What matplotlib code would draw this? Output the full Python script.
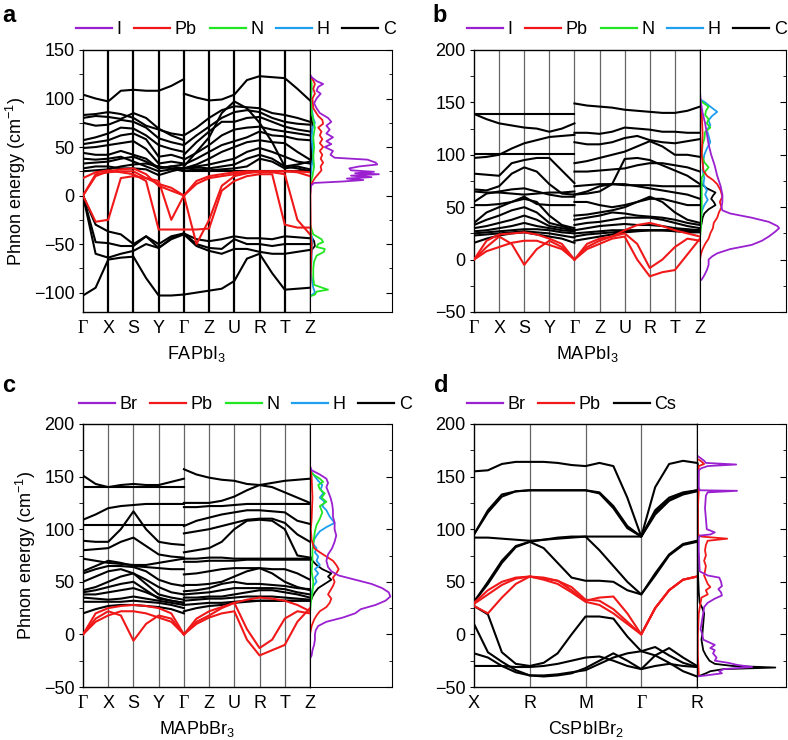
import numpy as np
import matplotlib
matplotlib.use('Agg')
import matplotlib.pyplot as plt
from matplotlib.lines import Line2D
from matplotlib.ticker import MultipleLocator

plt.rcParams['font.family'] = ['Liberation Sans', 'DejaVu Sans']
plt.rcParams['mathtext.fontset'] = 'custom'
plt.rcParams['mathtext.rm'] = 'Liberation Sans'
plt.rcParams['mathtext.it'] = 'Liberation Sans:italic'
plt.rcParams['mathtext.bf'] = 'Liberation Sans:bold'

PURPLE = '#9a20d0'
RED = '#f01818'
GREEN = '#22e622'
BLUE = '#1e9ff0'
BLACK = 'black'

# ---------------- data ----------------
# orthorhombic path, bands sampled at half steps; part 1 = G-X-S-Y-G, part 2 = G-Z-U-R-T-Z
ortho_labels = ['Γ', 'X', 'S', 'Y', 'Γ', 'Z', 'U', 'R', 'T', 'Z']
cubic_labels = ['X', 'R', 'M', 'Γ', 'R']

# FAPbI3
fa_black = [
    ([104, 100, 97, 108, 109, 108, 108, 113, 120], [105, 101, 98, 99, 104, 119, 123, 122, 121, 110, 98]),
    ([83, 84, 86, 84, 80, 72, 68, 64, 62], [62, 70, 80, 88, 92, 91, 90, 85, 83, 80, 76]),
    ([80, 82, 81, 79, 85, 80, 69, 62, 57], [52, 62, 71, 80, 86, 88, 86, 80, 76, 74, 73]),
    ([75, 72, 73, 78, 76, 70, 59, 55, 52], [42, 55, 66, 76, 76, 80, 81, 76, 71, 68, 66]),
    ([57, 60, 64, 70, 69, 62, 52, 48, 45], [37, 44, 52, 62, 68, 70, 71, 68, 66, 64, 62]),
    ([53, 55, 57, 62, 64, 58, 40, 42, 38], [32, 38, 45, 52, 56, 60, 66, 62, 61, 58, 57]),
    ([49, 50, 52, 54, 56, 48, 33, 35, 33], [28, 32, 38, 45, 50, 55, 57, 55, 54, 45, 37]),
    ([44, 42, 42, 46, 42, 38, 28, 30, 28], [28, 30, 32, 35, 38, 45, 49, 45, 40, 35, 33]),
    ([38, 37, 38, 40, 35, 30, 25, 27, 28], [28, 29, 28, 30, 32, 38, 42, 38, 30, 28, 25]),
    ([33, 34, 35, 38, 40, 35, 28, 30, 32], [30, 45, 60, 85, 97, 90, 75, 55, 30, 32, 35]),
    ([28, 30, 30, 28, 28, 27, 21, 25, 28], [28, 27, 26, 27, 28, 30, 38, 35, 28, 30, 27]),
    ([25, 26, 27, 30, 32, 33, 30, 28, 25], [25, 25, 25, 25, 25, 25, 25, 25, 25, 25, 25]),
    ([0, -30, -37, -40, -50, -42, -50, -42, -39], [-39, -45, -47, -45, -42, -44, -44, -45, -42, -43, -44]),
    ([0, -48, -49, -52, -52, -42, -54, -44, -39], [-39, -50, -54, -55, -45, -50, -50, -52, -50, -50, -50]),
    ([0, -60, -64, -60, -57, -50, -54, -45, -40], [-40, -52, -57, -60, -55, -55, -58, -60, -60, -58, -56]),
    ([-103, -95, -66, -64, -63, -85, -103, -103, -102], [-102, -100, -98, -96, -88, -65, -60, -80, -97, -96, -95]),
]
fa_red = [
    ([0, 20, 25, 27, 28, 22, 10, 5, 0], [0, 15, 20, 22, 24, 25, 25, 25, 25, 25, 24]),
    ([0, -27, -25, 18, 20, 18, 15, -25, 0], [0, -50, -25, 10, 20, 23, 25, 24, 22, -25, -40]),
    ([18, 24, 26, 24, 22, 15, -35, -35, -35], [-35, -35, -34, 5, 15, 20, 22, 22, -30, -33, -33]),
    ([0, 22, 24, 25, 25, 18, 12, 8, 0], [0, 12, 18, 20, 22, 24, 24, 25, 25, 24, 20]),
]

# MAPbI3
ma_black = [
    ([139, 139, 139, 139, 139, 139, 139, 139, 139], [149, 147, 146, 145, 143, 142, 141, 140, 140, 142, 146]),
    ([139, 134, 130, 128, 126, 125, 122, 125, 130], [121, 121, 120, 122, 126, 125, 124, 122, 122, 121, 121]),
    ([97, 98, 100, 106, 111, 114, 117, 118, 119], [112, 110, 110, 112, 116, 118, 114, 112, 111, 113, 115]),
    ([101, 101, 101, 101, 101, 101, 101, 101, 101], [92, 94, 97, 100, 103, 108, 113, 108, 100, 100, 98]),
    ([82, 81, 80, 92, 95, 97, 97, 85, 73], [84, 84, 85, 86, 87, 90, 92, 92, 90, 88, 84]),
    ([67, 66, 70, 82, 88, 84, 72, 63, 62], [62, 63, 65, 72, 96, 97, 95, 90, 85, 80, 72]),
    ([65, 64, 64, 63, 62, 63, 64, 64, 65], [70, 71, 72, 72, 71, 71, 71, 70, 70, 70, 70]),
    ([55, 63, 65, 67, 68, 65, 62, 60, 60], [62, 65, 70, 72, 72, 70, 68, 66, 64, 62, 58]),
    ([52, 52, 53, 55, 60, 53, 52, 52, 52], [55, 55, 52, 50, 52, 55, 58, 58, 55, 52, 52]),
    ([35, 45, 50, 55, 58, 55, 42, 33, 30], [42, 43, 45, 47, 50, 55, 60, 55, 45, 38, 35]),
    ([33, 38, 42, 47, 50, 45, 35, 32, 28], [38, 40, 42, 45, 44, 42, 41, 40, 38, 35, 33]),
    ([30, 32, 35, 38, 42, 38, 32, 30, 28], [33, 35, 36, 38, 40, 40, 40, 38, 35, 32, 30]),
    ([27, 28, 30, 32, 35, 32, 30, 28, 27], [28, 30, 32, 33, 34, 33, 33, 32, 30, 29, 28]),
    ([25, 26, 27, 28, 29, 29, 28, 26, 25], [25, 26, 27, 28, 28, 28, 28, 28, 28, 28, 28]),
    ([23, 24, 25, 26, 27, 26, 25, 23, 21], [22, 24, 25, 26, 27, 28, 28, 28, 28, 27, 27]),
    ([16, 20, 23, 25, 26, 24, 22, 20, 16], [18, 20, 22, 24, 26, 27, 28, 28, 27, 26, 26]),
]
ma_red = [
    ([0, 12, 22, 15, -5, 10, 18, 12, 0], [0, 12, 18, 22, 25, 15, -8, 0, 12, 20, 18]),
    ([0, 8, 12, 16, 18, 18, 14, 10, 0], [0, 10, 15, 20, 22, 0, -16, -12, -10, 5, 20]),
    ([0, 18, 24, 25, 26, 24, 20, 15, 0], [0, 15, 20, 22, 28, 33, 35, 32, 28, 25, 22]),
]

# MAPbBr3
mb_black = [
    ([151, 143, 140, 142, 143, 142, 142, 145, 148], [157, 152, 149, 147, 146, 143, 142, 140, 135, 130, 125]),
    ([140, 140, 140, 140, 140, 140, 140, 140, 140], [125, 125, 125, 127, 131, 137, 142, 144, 146, 147, 148]),
    ([109, 114, 120, 122, 123, 124, 124, 124, 124], [121, 121, 122, 122, 123, 124, 124, 124, 124, 124, 124]),
    ([104, 104, 104, 104, 104, 104, 104, 104, 104], [103, 108, 111, 114, 116, 118, 118, 117, 116, 108, 105]),
    ([89, 88, 88, 100, 117, 100, 88, 86, 85], [96, 98, 100, 103, 106, 109, 110, 110, 106, 95, 88]),
    ([80, 81, 82, 88, 92, 84, 76, 74, 73], [78, 80, 82, 88, 100, 108, 109, 108, 100, 75, 73]),
    ([72, 70, 68, 67, 66, 66, 68, 70, 72], [72, 72, 73, 73, 72, 72, 72, 72, 72, 72, 72]),
    ([60, 65, 70, 68, 65, 64, 63, 62, 62], [69, 69, 70, 70, 70, 71, 71, 71, 71, 71, 71]),
    ([58, 62, 65, 65, 64, 60, 52, 48, 46], [57, 58, 60, 62, 63, 63, 63, 62, 62, 58, 52]),
    ([50, 55, 60, 62, 58, 52, 45, 40, 38], [47, 47, 48, 50, 55, 60, 63, 58, 50, 45, 42]),
    ([42, 45, 50, 55, 58, 48, 38, 35, 33], [41, 42, 44, 48, 50, 48, 48, 47, 46, 44, 43]),
    ([40, 42, 45, 48, 50, 42, 34, 32, 30], [38, 39, 40, 42, 44, 44, 44, 44, 43, 40, 38]),
    ([38, 38, 40, 42, 44, 40, 35, 32, 30], [35, 35, 36, 36, 38, 40, 42, 42, 40, 38, 35]),
    ([35, 34, 33, 34, 36, 34, 32, 30, 28], [32, 33, 34, 34, 35, 36, 36, 36, 35, 34, 33]),
    ([31, 31, 31, 31, 32, 31, 30, 28, 25], [28, 29, 30, 30, 31, 32, 32, 32, 32, 32, 32]),
    ([20, 24, 27, 28, 28, 27, 26, 24, 20], [22, 25, 27, 28, 30, 31, 32, 32, 32, 32, 32]),
]
mb_red = [
    ([0, 15, 22, 18, -6, 10, 18, 15, 0], [0, 12, 18, 25, 30, 5, -13, -5, 15, 22, 20]),
    ([0, 12, 18, 22, 22, 20, 16, 12, 0], [0, 10, 16, 20, 22, -5, -20, -15, -10, 12, 25]),
    ([0, 20, 25, 27, 28, 27, 25, 20, 0], [0, 15, 22, 26, 30, 33, 35, 34, 32, 28, 22]),
]

# CsPbIBr2, sampled at quarter steps along X-R-M-G-R
cs_black = [
    [155, 156, 162, 164, 164, 164, 163, 161, 160, 163, 160, 130, 93, 140, 162, 165, 163],
    [95, 118, 133, 136, 137, 137, 137, 137, 137, 135, 122, 103, 93, 118, 130, 135, 137],
    [95, 116, 131, 136, 137, 137, 137, 137, 137, 134, 120, 101, 93, 116, 128, 134, 137],
    [92, 92, 91, 90, 89, 90, 91, 92, 93, 93, 93, 93, 93, 114, 127, 133, 136],
    [31, 50, 70, 84, 88, 82, 68, 54, 51, 51, 50, 42, 38, 58, 76, 86, 89],
    [31, 48, 68, 83, 88, 90, 92, 93, 93, 80, 65, 50, 38, 56, 75, 85, 88],
    [27, 19, -17, -28, -30, -27, -18, 0, 17, 17, 15, -2, -16, -12, -20, -27, -31],
    [10, -17, -26, -34, -39, -39, -38, -36, -34, -28, -22, -18, -16, -20, -27, -35, -40],
    [-18, -22, -30, -36, -39, -40, -39, -37, -32, -25, -18, -25, -33, -20, -13, -22, -30],
    [-30, -30, -30, -31, -31, -30, -28, -25, -22, -21, -25, -30, -33, -30, -28, -30, -31],
]
cs_red = [
    [30, 42, 50, 54, 55, 52, 48, 40, 31, 28, 20, 10, 0, 25, 42, 52, 55],
    [27, 20, 35, 48, 55, 53, 51, 45, 33, 32, 24, 12, 0, 25, 42, 52, 55],
    [29, 38, 47, 53, 55, 54, 51, 42, 32, 35, 36, 20, 0, 25, 42, 52, 55],
]

# projected DOS (energy, relative height)
fa_I_e = [150, 125, 122, 118, 115, 112, 108, 105, 100, 95, 90, 85, 80, 76, 72, 68, 64, 60, 56, 53, 50, 46, 42, 39, 37, 34, 32, 30, 28, 26, 24.5, 23, 22, 20.5, 19, 17.5, 16, 14.5, 13, 10, 0, -105]
fa_I_v = [0, 0, 0.02, 0.08, 0.16, 0.1, 0.08, 0.13, 0.08, 0.05, 0.08, 0.12, 0.22, 0.26, 0.2, 0.24, 0.2, 0.28, 0.2, 0.26, 0.18, 0.28, 0.25, 0.3, 0.7, 0.8, 0.82, 0.6, 0.48, 0.5, 0.78, 0.55, 0.84, 0.5, 0.75, 0.45, 0.65, 0.4, 0.05, 0.01, 0, 0]
fa_Pb_e = [122, 120, 115, 110, 105, 100, 90, 82, 78, 74, 70, 66, 62, 58, 54, 50, 46, 42, 38, 34, 30, 26, 22, 18, 14, 10, 0, -40, -50, -104]
fa_Pb_v = [0, 0.03, 0.06, 0.04, 0.06, 0.03, 0.04, 0.1, 0.15, 0.16, 0.1, 0.14, 0.12, 0.15, 0.12, 0.16, 0.12, 0.15, 0.13, 0.16, 0.13, 0.14, 0.1, 0.06, 0.03, 0.01, 0.005, 0.01, 0.02, 0]
fa_N_e = [122, 115, 100, 85, 78, 70, 60, 50, 40, 30, 20, 12, -30, -35, -40, -45, -48, -50, -53, -55, -58, -62, -68, -75, -85, -92, -95, -97, -99, -102, -104]
fa_N_v = [0, 0.02, 0.01, 0.02, 0.04, 0.06, 0.04, 0.05, 0.04, 0.05, 0.03, 0, 0, 0.02, 0.04, 0.14, 0.16, 0.1, 0.08, 0.18, 0.17, 0.08, 0.05, 0.04, 0.04, 0.05, 0.15, 0.22, 0.08, 0.06, 0]
fa_H_e = [122, 110, 95, 80, 75, 70, 60, 50, 40, 30, 15, -35, -45, -55, -65, -80, -95, -100, -104]
fa_H_v = [0, 0.02, 0.01, 0.04, 0.06, 0.03, 0.02, 0.03, 0.04, 0.02, 0, 0, 0.03, 0.02, 0.02, 0.01, 0.04, 0.06, 0]
fa_C_e = [90, 80, 70, 60, 40, 20, -40, -47, -52, -56, -70]
fa_C_v = [0, 0.02, 0.03, 0.01, 0.02, 0, 0, 0.05, 0.06, 0.02, 0]

ma_I_e = [200, 160, 150, 140, 130, 120, 110, 100, 90, 80, 70, 62, 55, 50, 47, 44, 40, 36, 32, 30, 27, 22, 18, 14, 10, 6, 3, 0, -5, -10, -15, -19, -20]
ma_I_v = [0, 0, 0.01, 0.03, 0.06, 0.08, 0.1, 0.13, 0.17, 0.2, 0.24, 0.26, 0.26, 0.25, 0.26, 0.35, 0.6, 0.8, 0.9, 0.92, 0.88, 0.8, 0.72, 0.6, 0.35, 0.2, 0.14, 0.1, 0.1, 0.08, 0.05, 0.02, 0]
ma_Pb_e = [150, 140, 120, 100, 85, 80, 76, 72, 66, 60, 55, 50, 45, 40, 35, 30, 25, 20, 15, 10, 5, 0]
ma_Pb_v = [0, 0.02, 0.03, 0.02, 0.04, 0.08, 0.15, 0.2, 0.24, 0.26, 0.23, 0.25, 0.22, 0.2, 0.16, 0.15, 0.12, 0.1, 0.06, 0.03, 0.01, 0]
ma_N_e = [153, 150, 146, 142, 138, 134, 130, 126, 122, 115, 110, 100, 93, 88, 84, 78, 65, 50, 30, 20]
ma_N_v = [0, 0.03, 0.1, 0.07, 0.06, 0.1, 0.08, 0.12, 0.06, 0.05, 0.03, 0.02, 0.05, 0.1, 0.06, 0.02, 0.02, 0.02, 0.01, 0]
ma_H_e = [153, 150, 146, 141, 137, 133, 128, 124, 118, 112, 106, 100, 95, 85, 78, 72, 66, 62, 57, 52, 46, 40, 30]
ma_H_v = [0, 0.06, 0.12, 0.2, 0.14, 0.1, 0.12, 0.08, 0.1, 0.12, 0.08, 0.05, 0.04, 0.03, 0.05, 0.04, 0.08, 0.06, 0.09, 0.05, 0.02, 0.01, 0]
ma_C_e = [80, 72, 68, 64, 61, 58, 55, 52, 48, 44, 40, 35, 28]
ma_C_v = [0, 0.02, 0.08, 0.18, 0.15, 0.13, 0.16, 0.18, 0.1, 0.05, 0.03, 0.02, 0]

mb_Br_e = [200, 160, 156, 152, 148, 144, 140, 136, 130, 124, 118, 112, 106, 100, 94, 88, 82, 76, 70, 64, 60, 56, 52, 48, 44, 40, 36, 32, 28, 24, 20, 16, 12, 8, 4, 0, -5, -10, -15, -20, -23]
mb_Br_v = [0, 0, 0.02, 0.12, 0.2, 0.22, 0.2, 0.22, 0.25, 0.27, 0.28, 0.28, 0.3, 0.3, 0.32, 0.3, 0.27, 0.22, 0.2, 0.22, 0.26, 0.35, 0.55, 0.75, 0.88, 0.96, 0.98, 0.92, 0.8, 0.62, 0.55, 0.4, 0.2, 0.1, 0.07, 0.06, 0.06, 0.05, 0.03, 0.02, 0]
mb_Pb_e = [160, 150, 130, 110, 100, 90, 82, 78, 74, 70, 66, 62, 58, 54, 50, 46, 42, 38, 34, 30, 26, 22, 18, 14, 8, 0]
mb_Pb_v = [0, 0.02, 0.03, 0.02, 0.01, 0.02, 0.05, 0.12, 0.2, 0.28, 0.32, 0.35, 0.32, 0.28, 0.3, 0.28, 0.25, 0.22, 0.26, 0.24, 0.2, 0.12, 0.08, 0.05, 0.02, 0]
mb_N_e = [156, 152, 148, 145, 142, 138, 134, 130, 126, 122, 116, 110, 104, 98, 92, 86, 80, 70, 60, 50, 40, 30, 20]
mb_N_v = [0, 0.04, 0.12, 0.16, 0.1, 0.12, 0.18, 0.14, 0.2, 0.12, 0.15, 0.12, 0.08, 0.06, 0.05, 0.04, 0.03, 0.03, 0.02, 0.04, 0.03, 0.01, 0]
mb_H_e = [156, 150, 146, 142, 138, 134, 130, 126, 122, 118, 112, 106, 102, 98, 94, 90, 86, 82, 78, 74, 70, 66, 62, 58, 54, 50, 46, 40, 30]
mb_H_v = [0, 0.06, 0.1, 0.15, 0.13, 0.16, 0.12, 0.18, 0.15, 0.2, 0.24, 0.3, 0.2, 0.12, 0.08, 0.05, 0.04, 0.08, 0.06, 0.1, 0.08, 0.12, 0.06, 0.1, 0.06, 0.08, 0.04, 0.02, 0]
mb_C_e = [75, 70, 66, 62, 58, 55, 52, 48, 44, 40, 36, 30]
mb_C_v = [0, 0.03, 0.08, 0.15, 0.26, 0.22, 0.26, 0.18, 0.1, 0.06, 0.03, 0]

cs_Br_e = [170, 167, 165, 163, 161.5, 160, 158, 156, 140, 137, 136.5, 135, 132, 120, 110, 100, 97, 95, 94, 92, 80, 60, 56, 54, 50, 46, 43, 40, 37, 34, 30, 26, 20, 15, 10, 5, 0, -5, -10, -13, -15, -18, -22, -25, -27, -29, -31, -33, -35, -37, -39, -40]
cs_Br_v = [0, 0.05, 0.08, 0.1, 0.44, 0.12, 0.05, 0.02, 0.02, 0.03, 0.45, 0.12, 0.1, 0.09, 0.1, 0.11, 0.2, 0.15, 0.04, 0.02, 0.02, 0.03, 0.12, 0.25, 0.27, 0.28, 0.24, 0.27, 0.28, 0.2, 0.12, 0.08, 0.07, 0.06, 0.05, 0.04, 0.06, 0.07, 0.2, 0.15, 0.2, 0.18, 0.22, 0.2, 0.35, 0.45, 0.62, 0.3, 0.25, 0.28, 0.1, 0]
cs_Pb_e = [167, 165, 162, 160, 140, 137, 120, 95, 93, 91, 89, 85, 80, 75, 70, 65, 60, 56, 52, 48, 45, 42, 38, 35, 30, 20, 0, -20, -38, -40]
cs_Pb_v = [0, 0.04, 0.08, 0.02, 0.01, 0.02, 0.01, 0.01, 0.05, 0.34, 0.12, 0.1, 0.09, 0.1, 0.08, 0.1, 0.09, 0.08, 0.1, 0.12, 0.15, 0.1, 0.12, 0.05, 0.04, 0.02, 0.01, 0.01, 0.02, 0]
cs_Cs_e = [165, 162, 140, 100, 60, 40, 30, 25, 20, 10, 0, -5, -10, -15, -20, -25, -28, -30, -31.5, -33, -35, -37, -39, -40]
cs_Cs_v = [0, 0.01, 0.01, 0.01, 0.01, 0.02, 0.03, 0.06, 0.08, 0.07, 0.06, 0.05, 0.06, 0.07, 0.1, 0.14, 0.2, 0.4, 0.88, 0.3, 0.15, 0.1, 0.04, 0]

W, H = 788, 740


def rect(x0, x1, y0, y1):
    return [x0 / W, 1 - y1 / H, (x1 - x0) / W, (y1 - y0) / H]


def style_yaxis(ax, ylim):
    ax.set_ylim(*ylim)
    ax.yaxis.set_major_locator(MultipleLocator(50))
    ax.yaxis.set_minor_locator(MultipleLocator(25))


def band_axes(fig, r, ylim, labels, vcolor, vlw):
    ax = fig.add_axes(r)
    style_yaxis(ax, ylim)
    n = len(labels) - 1
    ax.set_xlim(0, n)
    ax.set_xticks(range(n + 1))
    ax.set_xticklabels(labels, fontsize=13)
    for t in ax.get_xticklabels():
        if t.get_text() == 'Γ':
            t.set_fontfamily('Liberation Serif')
    ax.tick_params(axis='x', length=0, pad=6)
    ax.tick_params(axis='y', which='major', direction='out', length=3, labelsize=13, pad=3)
    ax.tick_params(axis='y', which='minor', direction='out', length=3)
    for k in range(1, n):
        ax.axvline(k, color=vcolor, lw=vlw, zorder=1)
    for s in ax.spines.values():
        s.set_linewidth(1.0)
    return ax


def dos_axes(fig, r, ylim, curves):
    ax = fig.add_axes(r)
    style_yaxis(ax, ylim)
    ax.set_xlim(0, 1)
    ax.set_xticks([])
    ax.yaxis.tick_right()
    ax.tick_params(axis='y', which='major', direction='in', length=4, labelright=False)
    ax.tick_params(axis='y', which='minor', direction='in', length=2.5)
    for e, v, c in curves:
        ax.plot(v, e, color=c, lw=1.3)
    return ax


def legend(fig, names, colors, x, y):
    handles = [Line2D([], [], color=c, lw=1.6) for c in colors]
    fig.legend(handles, names, loc='center left', bbox_to_anchor=(x / W, 1 - y / H),
               ncol=len(names), frameon=False, fontsize=13, handlelength=2.0,
               handletextpad=0.25, columnspacing=0.7, borderpad=0, borderaxespad=0)


fig = plt.figure(figsize=(7.88, 7.40), dpi=100)

k1 = np.arange(0, 4.01, 0.5)
k2 = np.arange(4, 9.01, 0.5)
kq = np.arange(0, 4.01, 0.25)

ylabel = 'Phnon energy (cm$^{-1}$)'
elem5 = ['I', 'Pb', 'N', 'H', 'C']
col5 = [PURPLE, RED, GREEN, BLUE, BLACK]

panels = [
    # band rect, dos rect, ylim, black, red, dos curves, xlabel, vline color, vline lw
    (rect(83, 310, 50, 312), rect(310, 392, 50, 312), (-120, 150), fa_black, fa_red,
     [(fa_C_e, fa_C_v, BLACK), (fa_H_e, fa_H_v, BLUE), (fa_N_e, fa_N_v, GREEN),
      (fa_Pb_e, fa_Pb_v, RED), (fa_I_e, fa_I_v, PURPLE)],
     'FAPbI$_3$', 'black', 1.6, True),
    (rect(474, 700, 50, 312), rect(700, 786, 50, 312), (-50, 200), ma_black, ma_red,
     [(ma_C_e, ma_C_v, BLACK), (ma_H_e, ma_H_v, BLUE), (ma_N_e, ma_N_v, GREEN),
      (ma_Pb_e, ma_Pb_v, RED), (ma_I_e, ma_I_v, PURPLE)],
     'MAPbI$_3$', '#666666', 0.9, False),
    (rect(83, 310, 424, 687), rect(310, 392, 424, 687), (-50, 200), mb_black, mb_red,
     [(mb_C_e, mb_C_v, BLACK), (mb_H_e, mb_H_v, BLUE), (mb_N_e, mb_N_v, GREEN),
      (mb_Pb_e, mb_Pb_v, RED), (mb_Br_e, mb_Br_v, PURPLE)],
     'MAPbBr$_3$', '#666666', 0.9, True),
]

for rb, rd, ylim, blk, red, curves, xl, vc, vlw, show_y in panels:
    ax = band_axes(fig, rb, ylim, ortho_labels, vc, vlw)
    for p1, p2 in blk:
        ax.plot(k1, p1, color=BLACK, lw=1.5, zorder=2)
        ax.plot(k2, p2, color=BLACK, lw=1.5, zorder=2)
    for p1, p2 in red:
        ax.plot(k1, p1, color=RED, lw=1.5, zorder=3)
        ax.plot(k2, p2, color=RED, lw=1.5, zorder=3)
    ax.set_xlabel(xl, fontsize=13, labelpad=5)
    if show_y:
        ax.set_ylabel(ylabel, fontsize=13, labelpad=4)
    dos_axes(fig, rd, ylim, curves)

# CsPbIBr2
ax = band_axes(fig, rect(474, 697, 424, 687), (-50, 200), cubic_labels, '#666666', 0.9)
for b in cs_black:
    ax.plot(kq, b, color=BLACK, lw=1.5, zorder=2)
for b in cs_red:
    ax.plot(kq, b, color=RED, lw=1.5, zorder=3)
ax.set_xlabel('CsPbIBr$_2$', fontsize=13, labelpad=5)
dos_axes(fig, rect(697, 786, 424, 687), (-50, 200),
         [(cs_Cs_e, cs_Cs_v, BLACK), (cs_Pb_e, cs_Pb_v, RED), (cs_Br_e, cs_Br_v, PURPLE)])

legend(fig, elem5, col5, 76, 30)
legend(fig, elem5, col5, 76 + 391, 30)
legend(fig, ['Br', 'Pb', 'N', 'H', 'C'], col5, 79, 405)
legend(fig, ['Br', 'Pb', 'Cs'], [PURPLE, RED, BLACK], 76 + 391, 405)

for letter, x, y in [('a', 2, 15), ('b', 432, 15), ('c', 2, 385), ('d', 434, 385)]:
    fig.text(x / W, 1 - y / H, letter, fontsize=17, fontweight='bold', va='center', ha='left')

fig.savefig('out.png', dpi=100)
